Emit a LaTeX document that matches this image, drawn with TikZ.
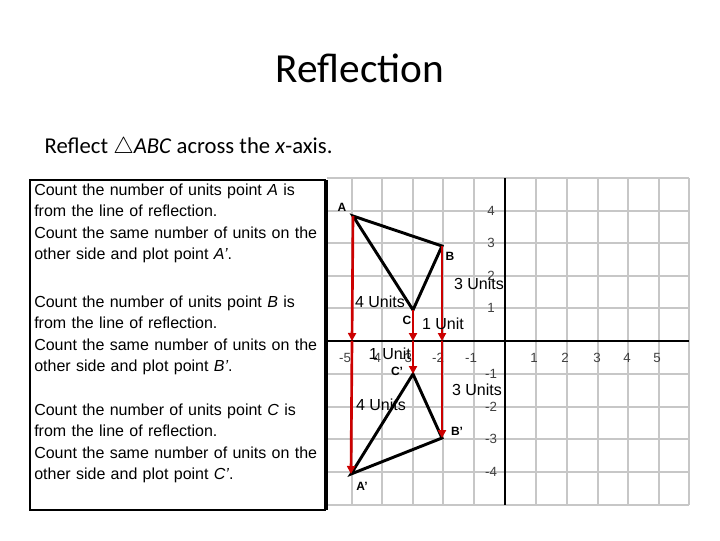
\documentclass[tikz,border=0pt]{standalone}
\usepackage{fontspec}
\setmainfont{Liberation Sans}
\newfontfamily\calfont{Carlito}
\usetikzlibrary{arrows.meta}
\begin{document}
\begin{tikzpicture}[x=0.75pt,y=-0.75pt,
  grid/.style={draw=black!22,line width=1.5pt},
  red arrow/.style={draw=red!80!black,line width=2pt,-{Triangle[length=6pt,width=6pt]}},
  tri/.style={draw=black,line width=2.2pt},
  pt/.style={font=\bfseries\fontsize{9}{10}\selectfont,inner sep=1pt},
  tick/.style={font=\fontsize{10}{11}\selectfont,text=black!75,inner sep=1pt},
  unit/.style={font=\fontsize{12}{13}\selectfont,inner sep=1pt},
  body/.style={font=\fontsize{12}{15.8}\selectfont,align=left,anchor=north west,inner sep=0pt,text width=216pt}]
\useasboundingbox (0,0) rectangle (720,540);
\node (title) at (360,68) {\calfont\fontsize{31}{34}\selectfont Reflection};
\node[anchor=west] (sub) at (40,148) {\calfont\fontsize{17}{20}\selectfont Reflect $\triangle$\textit{ABC} across the \textit{x}-axis.};
% grid
\foreach \x in {352,382,413,443,474,536,567,598,628,659,689} \draw[grid] (\x,178) -- (\x,505);
\foreach \y in {178,211,243,276,308,374,407,439,472,505} \draw[grid] (327,\y) -- (689,\y);
\draw[black,line width=1.2pt] (327,341) -- (689,341);
\draw[black,line width=1pt] (505,178) -- (505,505);
\draw[black,line width=1.2pt] (327,180) -- (327,510);
\draw[black,line width=1pt] (30,180) rectangle (325,510);
% ticks
\foreach \x/\l in {345/-5,375/-4,406/-3,438/-2,471/-1,534/1,565/2,597/3,627/4,657/5} \node[tick] at (\x,358) {\l};
\foreach \y/\l in {211/4,243/3,276/2,308/1,374/-1,407/-2,439/-3,472/-4} \node[tick] at (491,\y) {\l};
% points
\coordinate (A) at (353,216); \coordinate (B) at (442,246); \coordinate (C) at (413,310);
\coordinate (Ap) at (351,474); \coordinate (Bp) at (442,438); \coordinate (Cp) at (413,374);
\coordinate (Ax) at (352,341); \coordinate (Bx) at (442,341); \coordinate (Cx) at (413,341);
\draw[tri] (A) -- (B) -- (C) -- cycle;
\draw[tri] (Ap) -- (Bp) -- (Cp) -- cycle;
\draw[red arrow] (A) -- (Ax); \draw[red arrow] (Ax) -- (Ap);
\draw[red arrow] (B) -- (Bx); \draw[red arrow] (Bx) -- (Bp);
\draw[red arrow] (C) -- (Cx); \draw[red arrow] (Cx) -- (Cp);
\node[pt] (lA) at (342,207) {A}; \node[pt] (lB) at (450,256) {B}; \node[pt] (lC) at (407,320) {C};
\node[pt] (lCp) at (397,371) {C’}; \node[pt] (lBp) at (457,431) {B’}; \node[pt] (lAp) at (362,486) {A’};
\node[unit] (u1) at (380,302) {4 Units}; \node[unit] (u2) at (381,405) {4 Units};
\node[unit] (u3) at (479,284) {3 Units}; \node[unit] (u4) at (477,390) {3 Units};
\node[unit] (u5) at (443,324) {1 Unit}; \node[unit] (u6) at (390,354) {1 Unit};
% text
\node[body] (t1) at (34,184) {Count the number of units point \textit{A} is from the line of reflection.\\Count the same number of units on the other side and plot point \textit{A’}.};
\node[body] (t2) at (34,296) {Count the number of units point \textit{B} is from the line of reflection.\\Count the same number of units on the other side and plot point \textit{B’}.};
\node[body] (t3) at (34,404) {Count the number of units point \textit{C} is from the line of reflection.\\Count the same number of units on the other side and plot point \textit{C’}.};
\end{tikzpicture}
\end{document}
